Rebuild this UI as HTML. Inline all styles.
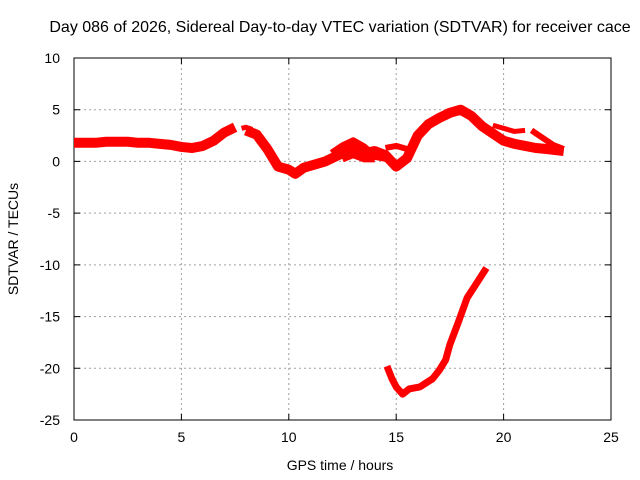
<!DOCTYPE html>
<html><head><meta charset="utf-8"><style>
body{margin:0;background:#fff}
svg{display:block;font-family:"Liberation Sans",sans-serif;font-size:14px}
</style></head><body>
<svg id="chart" width="640" height="480">
<rect width="640" height="480" fill="#fff"/>
<g id="grid"></g><g id="axes"></g><g id="marks"></g>
<text x="340" y="32" text-anchor="middle" style="font-size:16px">Day 086 of 2026, Sidereal Day-to-day VTEC variation (SDTVAR) for receiver cace</text>
<text x="340" y="470" text-anchor="middle">GPS time / hours</text>
<text transform="translate(18,239) rotate(-90)" text-anchor="middle">SDTVAR / TECUs</text>
</svg>
<script>
const xTicks=[0,5,10,15,20,25];
const yTicks=[10,5,0,-5,-10,-15,-20,-25];
const mainHours=[0,0.5,1,1.5,2,2.5,3,3.5,4,4.5,5,5.5,6,6.5,7,7.5];
const mainValues=[1.8,1.8,1.8,1.9,1.9,1.9,1.8,1.8,1.7,1.6,1.4,1.3,1.5,2.0,2.8,3.3];
const midHours=[8.0,8.5,9,9.5,10,10.3,10.7,11.2,11.7,12.2,12.7,13.0,13.5,14,14.5,15,15.5,16,16.5,17,17.5,18,18.5,19,19.5,20,20.5,21,21.5,22,22.8];
const midValues=[3.0,2.6,1.2,-0.5,-0.8,-1.2,-0.6,-0.3,0.0,0.5,1.0,1.3,0.8,1.0,0.6,-0.5,0.3,2.5,3.6,4.2,4.7,5.0,4.4,3.4,2.7,2.0,1.7,1.5,1.3,1.2,1.0];
const loopHours=[14.5,15,15.5];
const loopValues=[1.3,1.5,1.2];
const branchHours=[19.5,20,20.5,21];
const branchValues=[3.5,3.2,2.9,3.0];
const branch2Hours=[21.3,21.8,22.3,22.8];
const branch2Values=[3.0,2.3,1.6,1.2];
const thickHours=[12.0,12.5,13.0,13.5,14.0,14.5];
const thickValues=[0.8,1.5,2.0,1.4,0.5,0.3];
const thick2Hours=[12.5,13.0,13.5,14.0];
const thick2Values=[0.2,0.6,0.2,0.2];
const gapHours=[7.8,8.0,8.3];
const gapValues=[3.2,3.3,3.1];
const lowHours=[14.57,14.8,15.0,15.3,15.6,16.1,16.7,17.0,17.3,17.5,17.9,18.3,18.8,19.2];
const lowValues=[-19.8,-21.0,-21.8,-22.5,-22.0,-21.8,-21.0,-20.2,-19.2,-17.7,-15.5,-13.2,-11.6,-10.3];
const X0=74,X1=611,Y0=58,Y1=420;
const sx=h=>X0+(h-0)/(25-0)*(X1-X0);
const sy=v=>Y0+(10-v)/(35)*(Y1-Y0);
const NS="http://www.w3.org/2000/svg";
function mk(t,a,p){const e=document.createElementNS(NS,t);for(const k in a)e.setAttribute(k,a[k]);p.appendChild(e);return e;}
const grid=document.getElementById('grid'),axes=document.getElementById('axes'),marks=document.getElementById('marks');
xTicks.forEach(t=>{const x=sx(t);
 if(t>0&&t<25){const l=mk('line',{x1:x,x2:x,y1:Y0,y2:Y1,stroke:'#a0a0a0','stroke-dasharray':'2,3'},grid);
 }
 const tk=mk('path',{d:`M${x},${Y1}v-6M${x},${Y0}v6`,stroke:'#000'},axes);
 
 const tx=mk('text',{x:x,y:Y1+22,'text-anchor':'middle'},axes);tx.textContent=t;
 });
yTicks.forEach(t=>{const y=sy(t);
 if(t<10&&t>-25){const l=mk('line',{x1:X0,x2:X1,y1:y,y2:y,stroke:'#a0a0a0','stroke-dasharray':'2,3'},grid);
 }
 const tk=mk('path',{d:`M${X0},${y}h6M${X1},${y}h-6`,stroke:'#000'},axes);
 
 const tx=mk('text',{x:X0-14,y:y+5,'text-anchor':'end'},axes);tx.textContent=t;
 });
const fr=mk('rect',{x:X0,y:Y0,width:X1-X0,height:Y1-Y0,fill:'none',stroke:'#000'},axes);

function series(hs,vs,w,name){
 const pts=hs.map((h,i)=>sx(h)+','+sy(vs[i])).join(' ');
 const p=mk('polyline',{points:pts,fill:'none',stroke:'#ff0000','stroke-width':w,'stroke-linejoin':'round','stroke-linecap':'butt'},marks);
 }
series(mainHours,mainValues,10,'sdtvar-series-early');
series(gapHours,gapValues,5,'sdtvar-series-gap');
series(midHours,midValues,10,'sdtvar-series-main');
series(thickHours,thickValues,7,'sdtvar-series-thick');
series(thick2Hours,thick2Values,6,'sdtvar-series-thick2');
series(loopHours,loopValues,6,'sdtvar-series-loop');
series(branchHours,branchValues,5,'sdtvar-series-branch');
series(branch2Hours,branch2Values,6,'sdtvar-series-branch2');
series(lowHours,lowValues,7,'sdtvar-series-low');
</script>
</body></html>
